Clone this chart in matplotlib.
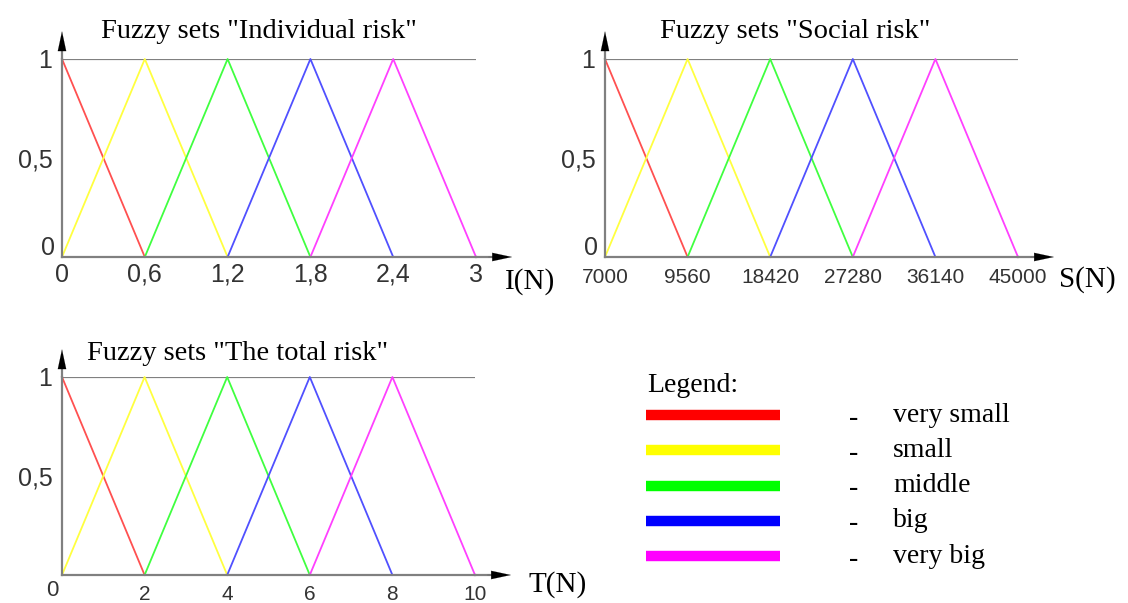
import matplotlib.pyplot as plt

# breakpoints of the fuzzy sets on each universe
individual_x = [0, 0.6, 1.2, 1.8, 2.4, 3]
individual_labels = ["0", "0,6", "1,2", "1,8", "2,4", "3"]
social_x = [7000, 9560, 18420, 27280, 36140, 45000]
social_labels = ["7000", "9560", "18420", "27280", "36140", "45000"]
total_x = [0, 2, 4, 6, 8, 10]
total_labels = ["", "2", "4", "6", "8", "10"]

# each set: which breakpoints it uses and membership there
set_names = ["very small", "small", "middle", "big", "very big"]
set_idx = [[0, 1], [0, 1, 2], [1, 2, 3], [2, 3, 4], [3, 4, 5]]
set_mu = [[1, 0], [0, 1, 0], [0, 1, 0], [0, 1, 0], [0, 1, 0]]

line_colors = ["#ff5050", "#ffff40", "#40ff40", "#5050ff", "#ff40ff"]
legend_colors = ["#ff0000", "#ffff00", "#00ff00", "#0000ff", "#ff00ff"]

W, H = 1128, 603
fig = plt.figure(figsize=(W / 100, H / 100), dpi=100)

SERIF = "Liberation Serif"
SANS = "Liberation Sans"
GREY = "#808080"
DARK = "#333333"


def box(l, t, r, b):
    return [l / W, 1 - b / H, (r - l) / W, (b - t) / H]


def panel(rect, xpos, xlabels, title, title_x, title_y, name, name_xy,
          xfont, xpad, ylab0_off, ylab0_size):
    ax = fig.add_axes(rect)
    for idx, mu, c in zip(set_idx, set_mu, line_colors):
        ax.plot([xpos[i] for i in idx], mu, color=c, lw=1.3, clip_on=False)
    ax.plot([xpos[0], xpos[-1]], [1, 1], color=GREY, lw=1.6, zorder=1)
    ax.set_xlim(xpos[0], xpos[-1])
    ax.set_ylim(0, 1)
    for s in ["top", "right"]:
        ax.spines[s].set_visible(False)
    for s in ["left", "bottom"]:
        ax.spines[s].set_color(GREY)
        ax.spines[s].set_linewidth(1.6)
    # axis arrows
    ax.plot([1, 1.06], [0, 0], color=GREY, lw=1.6, transform=ax.transAxes, clip_on=False)
    ax.plot([0, 0], [1, 1.1], color=GREY, lw=1.6, transform=ax.transAxes, clip_on=False)
    head = "-|>,head_length=1.4,head_width=0.3"
    ax.annotate("", xy=(1.087, 0), xytext=(1.03, 0), xycoords="axes fraction",
                arrowprops=dict(arrowstyle=head, color="black", lw=0.1, shrinkA=0, shrinkB=0))
    ax.annotate("", xy=(0, 1.14), xytext=(0, 1.06), xycoords="axes fraction",
                arrowprops=dict(arrowstyle=head, color="black", lw=0.1, shrinkA=0, shrinkB=0))
    ax.set_xticks(xpos)
    ax.set_xticklabels(xlabels, fontsize=xfont, family=SANS, color=DARK)
    ax.tick_params(axis="x", length=0, pad=xpad)
    ax.set_yticks([0.5, 1])
    ax.set_yticklabels(["0,5", "1"], fontsize=18, family=SANS, color=DARK)
    ax.tick_params(axis="y", length=0, pad=7)
    ax.set_yticks([0.5], minor=True)
    ax.tick_params(axis="y", which="minor", length=7, width=1.2, color=GREY)
    ax.annotate("0", xy=(0, 0), xycoords="axes fraction", xytext=ylab0_off,
                textcoords="offset pixels", ha="center", va="center",
                fontsize=ylab0_size, family=SANS, color=DARK)
    ax.text(title_x, title_y, title, transform=ax.transAxes, ha="center", va="center",
            fontsize=20.5, family=SERIF)
    ax.text(name_xy[0], name_xy[1], name, transform=ax.transAxes, ha="left", va="center",
            fontsize=21, family=SERIF)
    return ax


panel(box(62, 59, 476, 257), individual_x, individual_labels,
      'Fuzzy sets "Individual risk"', 0.476, 1.14, "I(N)", (1.07, -0.125),
      18, 4, (-14, 9), 18)

social_pos = list(range(len(social_x)))
panel(box(605, 59, 1018, 257), social_pos, social_labels,
      'Fuzzy sets "Social risk"', 0.46, 1.14, "S(N)", (1.1, -0.115),
      15, 8, (-14, 9), 18)

panel(box(62, 377, 475, 575), total_x, total_labels,
      'Fuzzy sets "The total risk"', 0.426, 1.12, "T(N)", (1.13, -0.05),
      15, 7, (-10, -15), 16)

# legend drawn by hand
lg = fig.add_axes([0, 0, 1, 1])
lg.set_xlim(0, W)
lg.set_ylim(H, 0)
lg.axis("off")
lg.patch.set_alpha(0)
lg.text(647, 386, "Legend:", fontsize=20, family=SERIF, va="center", ha="left")
for i, (name, c) in enumerate(zip(set_names, legend_colors)):
    y = 415 + i * 35.3
    lg.plot([646, 780], [y, y], color=c, lw=7.5, solid_capstyle="butt")
    lg.text(849, y + 3, "-", fontsize=20, family=SERIF, va="center", ha="left")
    lg.text(893, y, name, fontsize=20, family=SERIF, va="center", ha="left")

fig.savefig("out.png", dpi=100)
